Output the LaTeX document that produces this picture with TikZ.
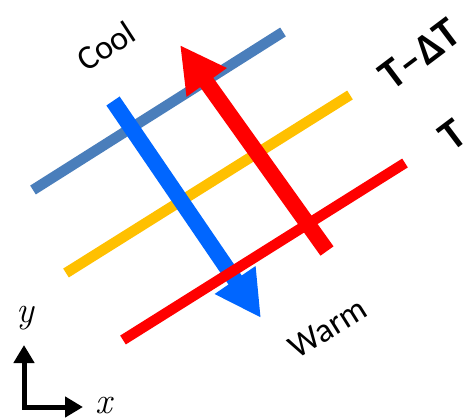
\documentclass[tikz,border=0pt]{standalone}
\usepackage{fontspec}
\setmainfont{Carlito}
\newfontfamily\axisfont{Latin Modern Roman}
\usetikzlibrary{arrows.meta}
\definecolor{steelline}{RGB}{74,126,187}
\definecolor{goldline}{RGB}{255,192,0}
\definecolor{redline}{RGB}{255,0,0}
\definecolor{bluearrow}{RGB}{0,102,255}
\tikzset{
  isoline/.style={line width=10.5pt},
  flowarrow/.style={line width=16pt,-{Triangle[length=46pt,width=46pt]}},
  axisline/.style={line width=5pt,line join=miter,{Triangle[length=18pt,width=20pt]}-{Triangle[length=18pt,width=20pt]}},
  sidelabel/.style={font=\fontsize{34}{36}\selectfont,inner sep=0pt},
  templabel/.style={font=\fontsize{43}{45}\selectfont\bfseries,inner sep=0pt},
  axislabel/.style={font=\fontsize{37}{39}\selectfont\axisfont\itshape,inner sep=0pt}
}
\begin{document}
\begin{tikzpicture}[x=1pt,y=-1pt]
\useasboundingbox (0,0) rectangle (466,418);
% isolines
\coordinate (bl1) at (33,190);  \coordinate (bl2) at (283,32);
\coordinate (yl1) at (66,273);  \coordinate (yl2) at (350,95);
\coordinate (rl1) at (123,340); \coordinate (rl2) at (405,163);
% arrows
\coordinate (btail) at (113,101); \coordinate (btip) at (261,318);
\coordinate (rtail) at (327,251); \coordinate (rtip) at (180,45);
% axes
\coordinate (ytip) at (24,345); \coordinate (corner) at (24,407); \coordinate (xtip) at (83,407);

\draw[isoline,steelline] (bl1) -- (bl2);
\draw[isoline,goldline] (yl1) -- (yl2);
\draw[flowarrow,bluearrow] (btail) -- (btip);
\draw[isoline,redline] (rl1) -- (rl2);
\draw[flowarrow,redline] (rtail) -- (rtip);

\node[sidelabel,rotate=33] (cool) at (106,46) {Cool};
\node[sidelabel,rotate=32] (warm) at (328,328) {Warm};
\node[templabel,rotate=37] (tdt) at (420,54) {T–ΔT};
\node[templabel,rotate=37] (t) at (453,135) {T};

\draw[axisline] (ytip) -- (corner) -- (xtip);
\node[axislabel] (ylab) at (25,318) {y};
\node[axislabel] (xlab) at (104,406) {x};
\end{tikzpicture}
\end{document}
